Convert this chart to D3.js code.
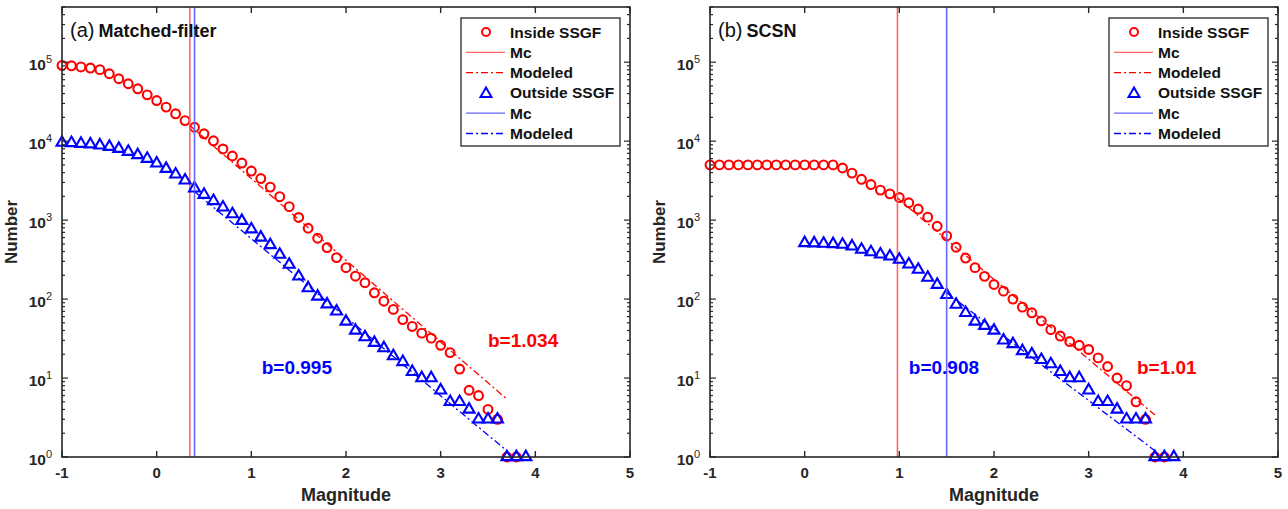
<!DOCTYPE html>
<html>
<head>
<meta charset="utf-8">
<script src="https://cdn.jsdelivr.net/npm/d3@7/dist/d3.min.js"></script>
<style>
  body { margin: 0; background: #fff; }
  text { font-family: "Liberation Sans", Arial, Helvetica, sans-serif; }
</style>
</head>
<body>
<div id="chart"></div>
<script>
// magnitude bins shared by all four series
var magBins = [-1.0, -0.9, -0.8, -0.7, -0.6, -0.5, -0.4, -0.3, -0.2, -0.1,
                0.0,  0.1,  0.2,  0.3,  0.4,  0.5,  0.6,  0.7,  0.8,  0.9,
                1.0,  1.1,  1.2,  1.3,  1.4,  1.5,  1.6,  1.7,  1.8,  1.9,
                2.0,  2.1,  2.2,  2.3,  2.4,  2.5,  2.6,  2.7,  2.8,  2.9,
                3.0,  3.1,  3.2,  3.3,  3.4,  3.5,  3.6,  3.7,  3.8,  3.9];

// (a) matched-filter catalog
var mfInside = [91000, 90000, 87000, 84300, 80400, 71400, 61700, 53300, 46000, 38600,
                32700, 27000, 22200, 18200, 15000, 12400, 10100, 7960, 6490, 5280,
                4180, 3360, 2620, 1980, 1480, 1080, 789, 589, 449, 335,
                250, 195, 161, 120, 94, 74, 55, 45, 37, 32,
                26, 21, 13, 7, 6, 4, 3, 1, 1, null];
var mfOutside = [9570, 9500, 9290, 9140, 8870, 8510, 8030, 7360, 6680, 6000,
                 5230, 4480, 3800, 3190, 2530, 2100, 1750, 1450, 1190, 982,
                 766, 603, 484, 366, 273, 194, 138, 108, 86, 70,
                 52, 40, 33, 28, 24, 19, 16, 12, 10, 10,
                 7, 5, 5, 4, 3, 3, 3, 1, 1, 1];

// (b) SCSN catalog
var scsnInside = [5000, 5000, 5000, 5000, 5000, 5000, 5000, 5000, 5000, 5000,
                  5000, 5000, 5000, 5000, 4570, 3940, 3290, 2820, 2400, 2150,
                  1930, 1660, 1380, 1090, 836, 630, 453, 331, 250, 194,
                  153, 126, 100, 79, 67, 53, 41, 34, 29, 26,
                  23, 18, 14, 10, 8, 5, 3, 1, 1, null];
var scsnOutside = [null, null, null, null, null, null, null, null, null, null,
                   513, 510, 504, 499, 490, 466, 423, 393, 369, 348,
                   316, 275, 236, 187, 152, 113, 85, 67, 52, 46,
                   40, 30, 27, 22, 20, 17, 15, 12, 10, 10,
                   7, 5, 5, 4, 3, 3, 3, 1, 1, 1];

// completeness magnitudes [inside, outside]
var mfMc = [0.35, 0.40];
var scsnMc = [0.98, 1.50];

// modeled G-R lines, endpoints [mag, number]
var mfModeledIn = [[0.35, 15800], [3.7, 5.4]];
var mfModeledOut = [[0.40, 2300], [3.7, 1.2]];
var scsnModeledIn = [[0.98, 1900], [3.7, 3.4]];
var scsnModeledOut = [[1.50, 120], [3.7, 1.2]];

// b-value labels [text, mag, number, colour]
var mfBLabels = [["b=0.995", 1.11, 11.2, "blue"], ["b=1.034", 3.50, 24.7, "red"]];
var scsnBLabels = [["b=0.908", 1.10, 11.2, "blue"], ["b=1.01", 3.51, 11.2, "red"]];

var legendLabels = ["Inside SSGF", "Mc", "Modeled", "Outside SSGF", "Mc", "Modeled"];
var xTicks = [-1, 0, 1, 2, 3, 4, 5];
var yTicks = [1, 10, 100, 1000, 10000, 100000];

var W = 1288, H = 509;
var axisColor = "#262626";
var mcColors = ["#ff6666", "#6666ff"];

var svg = d3.select("#chart").append("svg")
  .attr("width", W).attr("height", H);

var panels = [
  { left: 62, title: ["(a)", "Matched-filter"], inside: mfInside, outside: mfOutside,
    mc: mfMc, modIn: mfModeledIn, modOut: mfModeledOut, bl: mfBLabels },
  { left: 710, title: ["(b)", "SCSN"], inside: scsnInside, outside: scsnOutside,
    mc: scsnMc, modIn: scsnModeledIn, modOut: scsnModeledOut, bl: scsnBLabels }
];

panels.forEach(function (p, i) { drawPanel(p, i); });

function drawPanel(p, idx) {
  var top = 7, width = 568, height = 450;

  var x = d3.scaleLinear().domain([-1, 5]).range([0, width]);
  var y = d3.scaleLog().domain([1, 5e5]).range([height, 0]);

  var g = svg.append("g").attr("transform", "translate(" + p.left + "," + top + ")");

  var clipId = "clip" + idx;
  g.append("clipPath").attr("id", clipId)
    .append("rect").attr("width", width).attr("height", height);

  var line = d3.line()
    .x(function (d) { return x(d[0]); })
    .y(function (d) { return y(d[1]); });

  var tri = d3.symbol().type(d3.symbolTriangle).size(52);

  function pts(arr) {
    return magBins.map(function (m, k) { return [m, arr[k]]; })
      .filter(function (d) { return d[1] != null; });
  }

  function mcLine(m, col) {
    g.append("line")
      .attr("x1", x(m)).attr("x2", x(m))
      .attr("y1", 0).attr("y2", height)
      .attr("stroke", col).attr("stroke-width", 1.6);
  }

  function modeled(seg, col) {
    g.append("path")
      .attr("clip-path", "url(#" + clipId + ")")
      .attr("d", line(seg))
      .attr("fill", "none")
      .attr("stroke", col)
      .attr("stroke-width", 1.3)
      .attr("stroke-dasharray", "7,3,2,3");
  }

  // inside SSGF: circles, Mc, modeled (same order as the original plot calls)
  g.append("g").selectAll("circle")
    .data(pts(p.inside)).enter().append("circle")
    .attr("cx", function (d) { return x(d[0]); })
    .attr("cy", function (d) { return y(d[1]); })
    .attr("r", 4.4)
    .attr("fill", "none").attr("stroke", "red").attr("stroke-width", 2.1);
  mcLine(p.mc[0], mcColors[0]);
  modeled(p.modIn, "red");

  // outside SSGF: triangles, Mc, modeled
  g.append("g").selectAll("path")
    .data(pts(p.outside)).enter().append("path")
    .attr("d", tri)
    .attr("transform", function (d) { return "translate(" + x(d[0]) + "," + y(d[1]) + ")"; })
    .attr("fill", "none").attr("stroke", "blue").attr("stroke-width", 2.1);
  mcLine(p.mc[1], mcColors[1]);
  modeled(p.modOut, "blue");

  // box
  g.append("rect")
    .attr("width", width).attr("height", height)
    .attr("fill", "none").attr("stroke", axisColor).attr("stroke-width", 1.6);

  // x ticks (in, bottom and top)
  xTicks.forEach(function (t) {
    g.append("line").attr("x1", x(t)).attr("x2", x(t)).attr("y1", height).attr("y2", height - 6)
      .attr("stroke", axisColor).attr("stroke-width", 1.4);
    g.append("line").attr("x1", x(t)).attr("x2", x(t)).attr("y1", 0).attr("y2", 6)
      .attr("stroke", axisColor).attr("stroke-width", 1.4);
    g.append("text")
      .attr("x", x(t)).attr("y", height + 21)
      .attr("text-anchor", "middle")
      .attr("font-size", 15).attr("font-weight", "bold").attr("fill", axisColor)
      .text(t);
  });

  // y ticks: minor and major on both sides
  y.ticks().forEach(function (t) {
    var major = yTicks.indexOf(t) >= 0;
    var len = major ? 6 : 3;
    g.append("line").attr("x1", 0).attr("x2", len).attr("y1", y(t)).attr("y2", y(t))
      .attr("stroke", axisColor).attr("stroke-width", 1.2);
    g.append("line").attr("x1", width).attr("x2", width - len).attr("y1", y(t)).attr("y2", y(t))
      .attr("stroke", axisColor).attr("stroke-width", 1.2);
  });
  yTicks.forEach(function (t) {
    var txt = g.append("text")
      .attr("x", -10).attr("y", y(t) + 8)
      .attr("text-anchor", "end")
      .attr("font-size", 15.5).attr("font-weight", "bold").attr("fill", axisColor);
    txt.append("tspan").text("10");
    txt.append("tspan").attr("dy", -7).attr("font-size", 11)
      .attr("font-weight", "normal").text(Math.round(Math.log10(t)));
  });

  // axis labels
  g.append("text")
    .attr("x", width / 2).attr("y", height + 44)
    .attr("text-anchor", "middle")
    .attr("font-size", 18).attr("font-weight", "bold").attr("fill", axisColor)
    .text("Magnitude");
  g.append("text")
    .attr("transform", "translate(-45," + (height / 2) + ") rotate(-90)")
    .attr("text-anchor", "middle")
    .attr("font-size", 17).attr("font-weight", "bold").attr("fill", axisColor)
    .text("Number");

  // panel title
  var title = g.append("text").attr("x", 8).attr("y", 30).attr("fill", "#111");
  title.append("tspan").attr("font-size", 20).text(p.title[0]);
  title.append("tspan").attr("dx", 4).attr("font-size", 18).attr("font-weight", "bold")
    .text(p.title[1]);

  // b-value annotations
  p.bl.forEach(function (b) {
    g.append("text")
      .attr("x", x(b[1])).attr("y", y(b[2]))
      .attr("font-size", 19).attr("font-weight", "bold").attr("fill", b[3])
      .text(b[0]);
  });

  // legend
  var lx = width - 169, ly = 11, lw = 159, lh = 128, rowH = 20.3;
  var leg = g.append("g").attr("transform", "translate(" + lx + "," + ly + ")");
  leg.append("rect").attr("width", lw).attr("height", lh)
    .attr("fill", "#fff").attr("stroke", axisColor).attr("stroke-width", 1.3);
  legendLabels.forEach(function (lab, k) {
    var cy = 14 + k * rowH;
    var col = k < 3 ? "red" : "blue";
    var kind = k % 3;
    if (kind === 0) {
      if (k === 0) {
        leg.append("circle").attr("cx", 25).attr("cy", cy).attr("r", 4)
          .attr("fill", "none").attr("stroke", col).attr("stroke-width", 2);
      } else {
        leg.append("path").attr("d", tri)
          .attr("transform", "translate(25," + (cy + 1) + ")")
          .attr("fill", "none").attr("stroke", col).attr("stroke-width", 2);
      }
    } else {
      leg.append("line").attr("x1", 5).attr("x2", 44).attr("y1", cy).attr("y2", cy)
        .attr("stroke", kind === 1 ? mcColors[k < 3 ? 0 : 1] : col)
        .attr("stroke-width", kind === 1 ? 1.2 : 1.3)
        .attr("stroke-dasharray", kind === 2 ? "7,3,2,3" : null);
    }
    leg.append("text").attr("x", 49).attr("y", cy + 5.5)
      .attr("font-size", 15.5).attr("font-weight", "bold").attr("fill", "#111")
      .text(lab);
  });
}
</script>
</body>
</html>
